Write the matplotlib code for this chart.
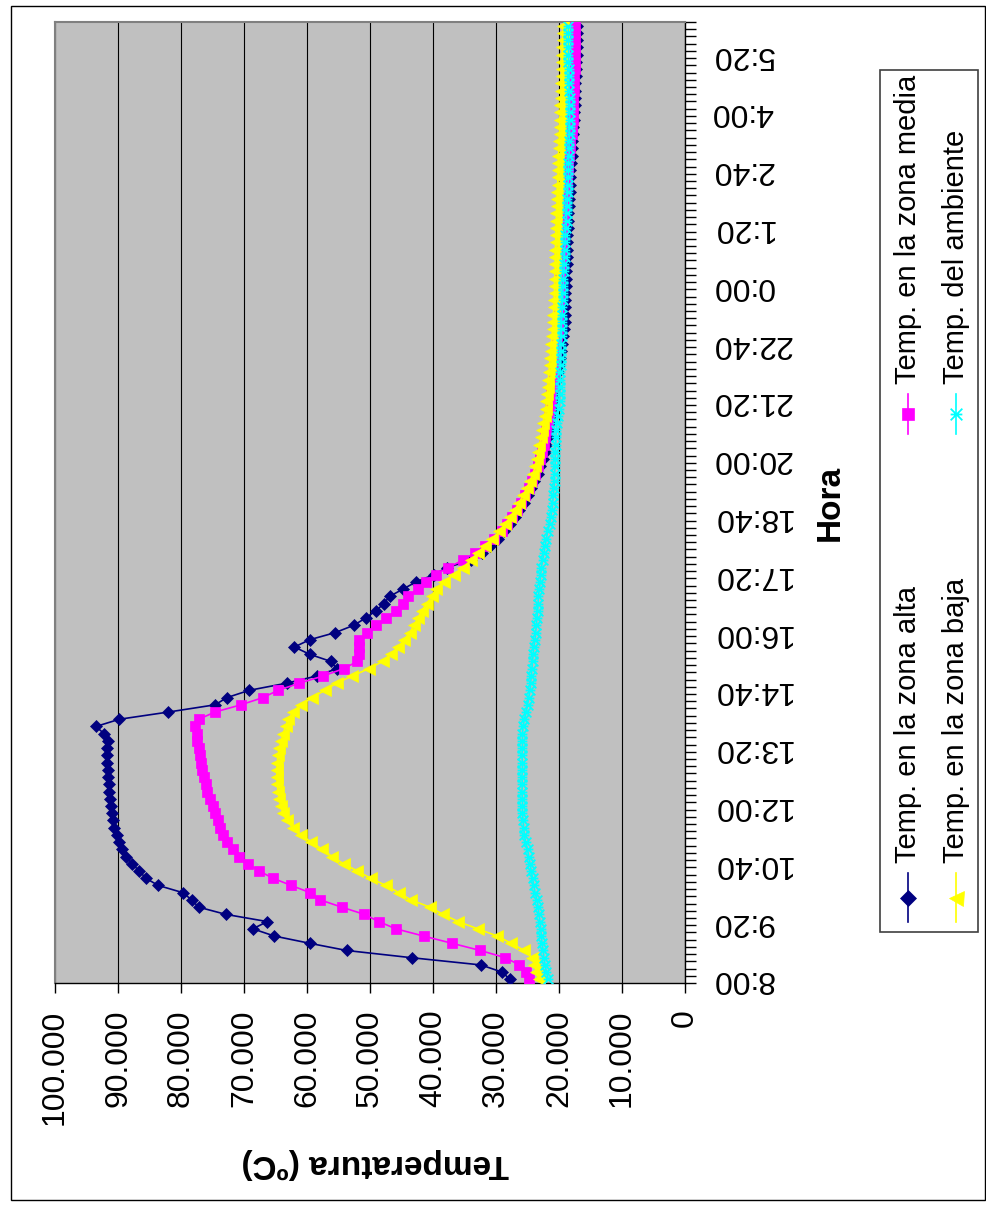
import numpy as np
import matplotlib
matplotlib.use("Agg")
import matplotlib.pyplot as plt
from matplotlib.lines import Line2D
from matplotlib.patches import Rectangle
from matplotlib.path import Path

plt.rcParams['font.family'] = ['Liberation Sans', 'DejaVu Sans']

# temperaturas leidas cada 10 min desde las 8:00
alta = [27.8, 29.0, 32.4, 43.4, 53.7, 59.6, 65.2, 68.6, 66.3, 72.9,
        77.2, 78.3, 79.7, 83.6, 85.6, 86.6, 87.8, 88.7, 89.3, 89.8,
        90.2, 90.6, 90.8, 90.9, 91.1, 91.2, 91.4, 91.5, 91.6, 91.6,
        91.7, 91.7, 91.7, 91.6, 92.2, 93.5, 89.8, 82.0, 74.6, 72.7,
        69.2, 63.2, 58.4, 55.3, 56.2, 59.6, 62.0, 59.6, 55.5, 52.6,
        50.7, 49.1, 47.8, 46.9, 44.8, 42.7, 39.9, 37.8, 34.0, 32.3,
        30.9, 29.7, 28.7, 27.8, 27.0, 26.3, 25.6, 25.0, 24.4, 23.9,
        23.4, 23.0, 22.6, 22.3, 22.0, 21.8, 21.6, 21.4, 21.2, 21.0,
        20.8, 20.6, 20.4, 20.3, 20.1, 20.0, 19.8, 19.7, 19.5, 19.4,
        19.2, 19.1, 19.1, 19.0, 19.0, 19.0, 18.9, 18.9, 18.9, 18.8,
        18.8, 18.8, 18.7, 18.7, 18.6, 18.5, 18.5, 18.4, 18.4, 18.3,
        18.3, 18.2, 18.2, 18.1, 18.0, 18.0, 17.9, 17.8, 17.7, 17.6,
        17.6, 17.5, 17.5, 17.4, 17.4, 17.3, 17.3, 17.3, 17.2, 17.2,
        17.2, 17.1, 17.1]

media = [24.7, 25.2, 26.3, 28.5, 32.5, 37.0, 41.5, 45.9, 48.6, 50.9,
         54.5, 57.9, 59.5, 62.5, 65.4, 67.6, 69.4, 70.8, 71.8, 72.7,
         73.3, 73.8, 74.2, 74.6, 75.0, 75.4, 75.8, 76.1, 76.4, 76.6,
         76.8, 77.0, 77.2, 77.4, 77.5, 77.8, 77.2, 74.6, 70.5, 67.0,
         64.6, 61.2, 57.4, 54.2, 52.0, 51.7, 51.7, 51.7, 50.4, 49.0,
         47.4, 45.9, 44.8, 43.9, 42.4, 41.1, 39.6, 37.6, 35.3, 33.4,
         31.7, 30.3, 29.1, 28.2, 27.4, 26.7, 26.0, 25.4, 24.8, 24.3,
         23.8, 23.4, 23.0, 22.7, 22.4, 22.2, 22.0, 21.8, 21.6, 21.4,
         21.3, 21.2, 21.0, 20.9, 20.8, 20.7, 20.6, 20.5, 20.4, 20.3,
         20.2, 20.1, 20.1, 20.0, 20.0, 19.9, 19.9, 19.8, 19.8, 19.7,
         19.7, 19.6, 19.5, 19.5, 19.4, 19.3, 19.2, 19.1, 19.0, 18.9,
         18.8, 18.7, 18.6, 18.5, 18.4, 18.3, 18.2, 18.0, 17.9, 17.8,
         17.8, 17.7, 17.7, 17.6, 17.6, 17.6, 17.5, 17.5, 17.5, 17.4,
         17.4, 17.4, 17.4]

baja = [23.2, 23.6, 23.9, 24.3, 25.5, 27.6, 29.8, 32.9, 36.0, 38.4,
        40.5, 43.5, 45.4, 47.5, 49.9, 52.0, 54.2, 56.0, 57.6, 59.3,
        61.0, 62.3, 63.2, 63.8, 64.2, 64.4, 64.6, 64.7, 64.8, 64.8,
        64.7, 64.6, 64.4, 64.1, 63.8, 63.4, 63.0, 62.2, 61.0, 59.2,
        57.2, 55.3, 52.8, 50.2, 48.0, 46.7, 45.5, 44.6, 43.7, 43.0,
        42.4, 41.8, 41.0, 40.2, 39.6, 38.2, 36.7, 35.2, 34.0, 32.9,
        31.8, 30.6, 29.5, 28.6, 27.7, 27.0, 26.3, 25.7, 25.1, 24.6,
        24.1, 23.8, 23.5, 23.3, 23.1, 22.9, 22.7, 22.5, 22.3, 22.1,
        22.0, 21.9, 21.8, 21.7, 21.6, 21.5, 21.4, 21.3, 21.2, 21.1,
        21.0, 20.9, 20.9, 20.8, 20.8, 20.7, 20.7, 20.7, 20.6, 20.6,
        20.6, 20.6, 20.5, 20.5, 20.5, 20.4, 20.4, 20.3, 20.3, 20.3,
        20.2, 20.2, 20.1, 20.1, 20.1, 20.0, 20.0, 19.9, 19.9, 19.9,
        19.8, 19.8, 19.7, 19.7, 19.7, 19.6, 19.6, 19.5, 19.5, 19.5,
        19.4, 19.4, 19.3]

ambiente = [21.7, 22.0, 22.2, 22.4, 22.5, 22.7, 22.8, 22.9, 23.0, 23.2,
            23.3, 23.5, 23.8, 24.0, 24.2, 24.4, 24.6, 24.8, 25.0, 25.3,
            25.5, 25.6, 25.7, 25.8, 25.8, 25.8, 25.9, 25.8, 25.9, 25.8,
            25.8, 25.9, 25.8, 25.8, 25.8, 25.7, 25.5, 25.2, 25.0, 24.8,
            24.6, 24.5, 24.4, 24.3, 24.2, 24.1, 24.0, 23.8, 23.7, 23.6,
            23.5, 23.4, 23.3, 23.3, 23.1, 23.0, 22.9, 22.8, 22.6, 22.4,
            22.2, 22.0, 21.8, 21.5, 21.3, 21.1, 21.0, 20.9, 20.8, 20.7,
            20.7, 20.6, 20.6, 20.6, 20.5, 20.5, 20.4, 20.3, 20.2, 20.0,
            19.9, 19.9, 19.8, 19.8, 19.8, 19.7, 19.7, 19.7, 19.7, 19.6,
            19.6, 19.6, 19.5, 19.5, 19.4, 19.4, 19.3, 19.3, 19.2, 19.2,
            19.1, 19.1, 19.0, 19.0, 18.9, 18.8, 18.8, 18.7, 18.7, 18.6,
            18.6, 18.5, 18.5, 18.5, 18.4, 18.4, 18.4, 18.3, 18.3, 18.3,
            18.3, 18.3, 18.3, 18.4, 18.4, 18.4, 18.4, 18.5, 18.5, 18.5,
            18.5, 18.5, 18.5]

hora_labels = ['8:00', '9:20', '10:40', '12:00', '13:20', '14:40', '16:00',
               '17:20', '18:40', '20:00', '21:20', '22:40', '0:00', '1:20',
               '2:40', '4:00', '5:20']
temp_ticks = [0, 10, 20, 30, 40, 50, 60, 70, 80, 90, 100]
temp_labels = ['0', '10.000', '20.000', '30.000', '40.000', '50.000',
               '60.000', '70.000', '80.000', '90.000', '100.000']

nombres = ['Temp. en la zona alta', 'Temp. en la zona media',
           'Temp. en la zona baja', 'Temp. del ambiente']

n = len(alta)
idx = np.arange(n)

W, H = 987, 1207
fig = plt.figure(figsize=(W / 100, H / 100), dpi=100)

def fx(px):
    return px / W

def fy(py):
    return 1 - py / H

# asterisco de excel (x con barra)
star = Path([(-1, -1), (1, 1), (-1, 1), (1, -1), (-1, 0), (1, 0)],
            [Path.MOVETO, Path.LINETO] * 3)

estilos = [
    dict(color='#000080', marker='D', ms=6.5, mew=0.5),
    dict(color='#FF00FF', marker='s', ms=7, mew=0.5),
    dict(color='#FFFF00', marker='<', ms=9, mew=0.5),
    dict(color='#00FFFF', marker=star, ms=7, mew=1.3),
]

ax = fig.add_axes([fx(55), fy(983), fx(685) - fx(55), fy(22) - fy(983)])
ax.set_facecolor('#C0C0C0')

for serie, st in zip([alta, media, baja, ambiente], estilos):
    ax.plot(serie, idx, color=st['color'], lw=1.2, marker=st['marker'],
            ms=st['ms'], mfc=st['color'], mec=st['color'], mew=st['mew'],
            zorder=3)

ax.set_xlim(100, 0)
ax.set_ylim(-0.5, n - 0.5)

ax.set_xticks(temp_ticks, temp_labels, rotation=90, fontsize=23)
ax.tick_params(axis='x', length=7, width=1, pad=12, direction='out')
ax.grid(axis='x', color='black', lw=0.8)
ax.set_axisbelow(True)

ax.yaxis.tick_right()
ax.set_yticks(idx[::8], hora_labels, fontsize=23)
ax.set_yticks(np.arange(-0.5, n, 1), minor=True)
ax.tick_params(axis='y', which='major', length=0, pad=19, labelrotation=180)
ax.tick_params(axis='y', which='minor', length=8, width=1, direction='out')
for lbl in ax.get_yticklabels():
    lbl.set_va('center')

for s in ['top', 'left']:
    ax.spines[s].set_color('#808080')
    ax.spines[s].set_linewidth(1.5)
for s in ['bottom', 'right']:
    ax.spines[s].set_color('black')
    ax.spines[s].set_linewidth(1)

fig.text(fx(375), fy(1163), 'Temperatura (ºC)', rotation=180, fontsize=24,
         fontweight='bold', ha='center', va='center')
fig.text(fx(830), fy(503), 'Hora', rotation=90, fontsize=24,
         fontweight='bold', ha='center', va='center')

# leyenda girada, dibujada a mano
fig.add_artist(Rectangle((fx(880), fy(932)), fx(978) - fx(880), fy(70) - fy(932),
                         transform=fig.transFigure, facecolor='white',
                         edgecolor='#404040', lw=1.2))
pos_leyenda = [(908, 873, 922, 863), (908, 394, 434, 384),
               (956, 873, 922, 863), (956, 394, 434, 384)]
for nombre, st, (lx, y0, y1, ty) in zip(nombres, estilos, pos_leyenda):
    fig.add_artist(Line2D([fx(lx), fx(lx)], [fy(y0), fy(y1)],
                          transform=fig.transFigure, color=st['color'], lw=1.2))
    fig.add_artist(Line2D([fx(lx)], [fy((y0 + y1) / 2)], transform=fig.transFigure,
                          marker=st['marker'], ms=st['ms'] * 1.2, mfc=st['color'],
                          mec=st['color'], mew=st['mew'], lw=0))
    fig.text(fx(lx), fy(ty), nombre, rotation=90, fontsize=21,
             ha='center', va='bottom')

fig.add_artist(Rectangle((fx(11), fy(1200)), fx(985) - fx(11), fy(6) - fy(1200),
                         transform=fig.transFigure, fill=False,
                         edgecolor='black', lw=1))

fig.savefig('out.png', dpi=100)
